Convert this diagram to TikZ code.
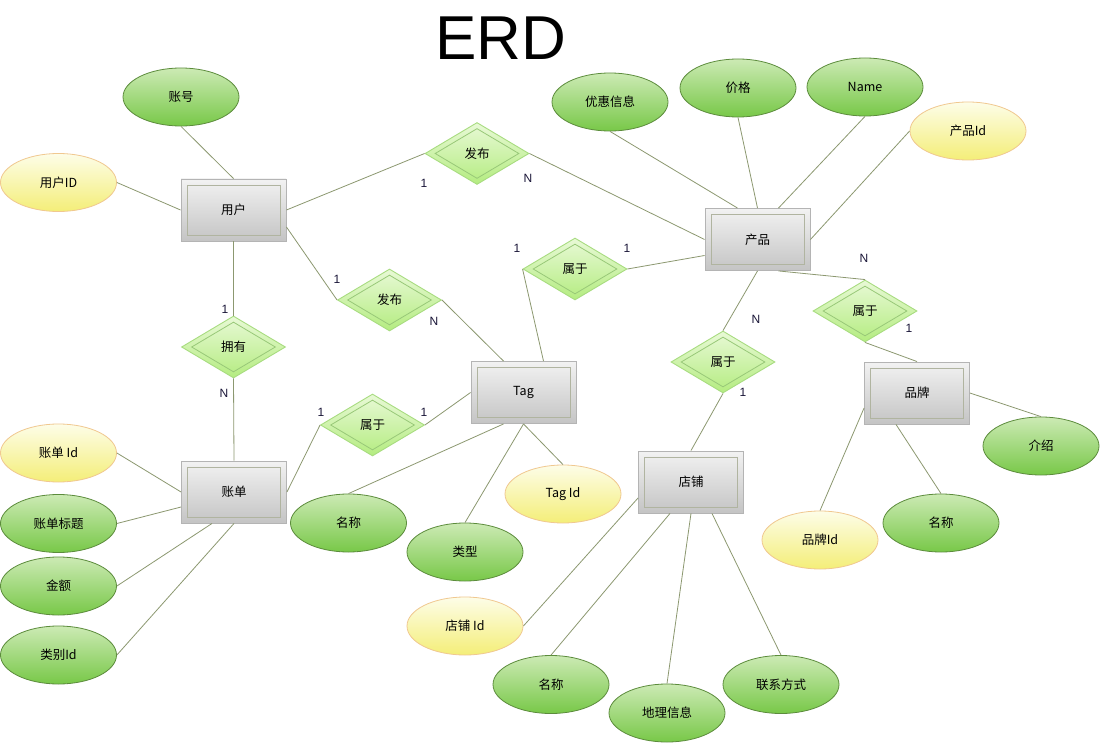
\documentclass[tikz,border=0pt]{standalone}
\usepackage{fontspec}
\setmainfont{Noto Sans CJK SC}
\newfontfamily\latinfont{Liberation Sans}
\usetikzlibrary{shapes.geometric}
\definecolor{connc}{RGB}{140,152,112}
\definecolor{relborder}{RGB}{168,220,128}
\definecolor{relinner}{RGB}{152,200,120}
\definecolor{reltop}{RGB}{232,249,214}
\definecolor{relbot}{RGB}{180,236,128}
\definecolor{enttop}{RGB}{242,242,242}
\definecolor{entbot}{RGB}{196,196,196}
\definecolor{entborder}{RGB}{180,180,180}
\definecolor{entinner}{RGB}{176,180,160}
\definecolor{grtop}{RGB}{204,234,180}
\definecolor{grbot}{RGB}{120,200,72}
\definecolor{grborder}{RGB}{92,140,60}
\definecolor{yetop}{RGB}{253,253,232}
\definecolor{yebot}{RGB}{244,238,120}
\definecolor{yeborder}{RGB}{240,200,144}
\definecolor{cardc}{RGB}{26,22,56}
\tikzset{
  conn/.style={draw=connc, line width=0.8pt},
  entity/.style={rectangle, draw=entborder, line width=0.9pt, top color=enttop, bottom color=entbot,
    minimum width=105pt, minimum height=62pt, inner sep=0pt, font=\fontsize{12.5}{14}\selectfont,
    path picture={\draw[entinner, line width=0.8pt] ([shift={(6pt,-6pt)}]path picture bounding box.north west) rectangle ([shift={(-6pt,6pt)}]path picture bounding box.south east);}},
  relation/.style={diamond, draw=relborder, line width=0.9pt, top color=reltop, bottom color=relbot,
    minimum width=104pt, minimum height=62pt, inner sep=0pt, font=\fontsize{12.5}{14}\selectfont,
    path picture={\draw[relinner, line width=0.8pt]
      ([yshift=-6pt]path picture bounding box.north) -- ([xshift=-10pt]path picture bounding box.east) --
      ([yshift=6pt]path picture bounding box.south) -- ([xshift=10pt]path picture bounding box.west) -- cycle;}},
  attrg/.style={ellipse, draw=grborder, line width=0.8pt, top color=grtop, bottom color=grbot,
    minimum width=116pt, minimum height=58pt, inner sep=0pt, font=\fontsize{12.5}{14}\selectfont},
  attry/.style={ellipse, draw=yeborder, line width=0.8pt, top color=yetop, bottom color=yebot,
    minimum width=116pt, minimum height=58pt, inner sep=0pt, font=\fontsize{12.5}{14}\selectfont},
  card/.style={text=cardc, font=\latinfont\fontsize{12}{14}\selectfont, inner sep=0pt}
}
\begin{document}
\begin{tikzpicture}[x=1pt,y=-1pt]
\useasboundingbox[fill=white] (0,0) rectangle (1100,743);
\node[font=\latinfont\fontsize{62}{70}\selectfont, inner sep=0pt] (title) at (501,38) {ERD};

% entities
\node[entity] (user) at (233.5,210) {用户};
\node[entity] (prod) at (757.5,239.5) {产品};
\node[entity] (tag) at (523.5,392.5) {Tag};
\node[entity] (bill) at (234,492) {账单};
\node[entity] (shop) at (691,482) {店铺};
\node[entity] (brand) at (917,393) {品牌};

% relations
\node[relation] (r1) at (477,153.5) {发布};
\node[relation] (r2) at (575,269) {属于};
\node[relation] (r3) at (389.5,300) {发布};
\node[relation] (r4) at (233.5,347) {拥有};
\node[relation] (r5) at (372.5,425) {属于};
\node[relation] (r6) at (723,362) {属于};
\node[relation] (r7) at (865,311) {属于};

% attributes
\node[attrg] (azh) at (181,97) {账号};
\node[attry] (auid) at (58.5,182.5) {用户ID};
\node[attrg] (ayh) at (610,102) {优惠信息};
\node[attrg] (ajg) at (738,88) {价格};
\node[attrg] (aname) at (865,87) {Name};
\node[attry] (apid) at (968,131) {产品Id};
\node[attry] (abid) at (58.5,453) {账单 Id};
\node[attrg] (abt) at (58.5,523.5) {账单标题};
\node[attrg] (aamt) at (58.5,586) {金额};
\node[attrg] (acat) at (58.5,655) {类别Id};
\node[attrg] (atname) at (348.5,523) {名称};
\node[attrg] (atype) at (465,552) {类型};
\node[attry] (atid) at (563,494) {Tag Id};
\node[attry] (asid) at (465,626) {店铺 Id};
\node[attrg] (asname) at (551,684.5) {名称};
\node[attrg] (ageo) at (667,713) {地理信息};
\node[attrg] (acon) at (781,684.5) {联系方式};
\node[attry] (abdid) at (820,540) {品牌Id};
\node[attrg] (abdname) at (941,523) {名称};
\node[attrg] (aintro) at (1041,446) {介绍};

% connectors
\draw[conn] (azh.south) -- (user.north);
\draw[conn] (auid.east) -- (user.west);
\draw[conn] (user.east) -- (r1.west);
\draw[conn] (r1.east) -- (prod.west);
\draw[conn] ([yshift=-17pt]user.east) -- (r3.west);
\draw[conn] (r3.east) -- ([xshift=-20pt]tag.north);
\draw[conn] (user.south) -- (r4.north);
\draw[conn] (r4.south) -- (bill.north);
\draw[conn] (r2.west) -- ([xshift=20pt]tag.north);
\draw[conn] (r2.east) -- ([yshift=-16pt]prod.west);
\draw[conn] (ayh.south) -- ([xshift=-20pt]prod.north);
\draw[conn] (ajg.south) -- (prod.north);
\draw[conn] (aname.south) -- ([xshift=21pt]prod.north);
\draw[conn] (apid.west) -- (prod.east);
\draw[conn] (prod.south) -- (r6.north);
\draw[conn] ([xshift=21pt]prod.south) -- (r7.north);
\draw[conn] (r6.south) -- (shop.north);
\draw[conn] (r7.south) -- (brand.north);
\draw[conn] (r5.west) -- (bill.east);
\draw[conn] (r5.east) -- (tag.west);
\draw[conn] (abid.east) -- (bill.west);
\draw[conn] (abt.east) -- ([yshift=-15pt]bill.west);
\draw[conn] (aamt.east) -- ([xshift=-22pt]bill.south);
\draw[conn] (acat.east) -- (bill.south);
\draw[conn] (atname.north) -- ([xshift=-20pt]tag.south);
\draw[conn] (atype.north) -- (tag.south);
\draw[conn] (atid.north) -- (tag.south);
\draw[conn] (asid.east) -- ([yshift=-16pt]shop.west);
\draw[conn] (asname.north) -- ([xshift=-21pt]shop.south);
\draw[conn] (ageo.north) -- (shop.south);
\draw[conn] (acon.north) -- ([xshift=21pt]shop.south);
\draw[conn] (abdid.north) -- ([yshift=-15pt]brand.west);
\draw[conn] (abdname.north) -- ([xshift=-21pt]brand.south);
\draw[conn] (aintro.north) -- (brand.east);

% cardinalities
\node[card] (c1) at (424,183) {1};
\node[card] (c2) at (528,178) {N};
\node[card] (c3) at (337,279) {1};
\node[card] (c4) at (434,321) {N};
\node[card] (c5) at (517,248) {1};
\node[card] (c6) at (627,248) {1};
\node[card] (c7) at (225,309) {1};
\node[card] (c8) at (224,393) {N};
\node[card] (c9) at (321,412) {1};
\node[card] (c10) at (424,412) {1};
\node[card] (c11) at (756,319) {N};
\node[card] (c12) at (743,392) {1};
\node[card] (c13) at (864,258) {N};
\node[card] (c14) at (909,328) {1};
\end{tikzpicture}
\end{document}
